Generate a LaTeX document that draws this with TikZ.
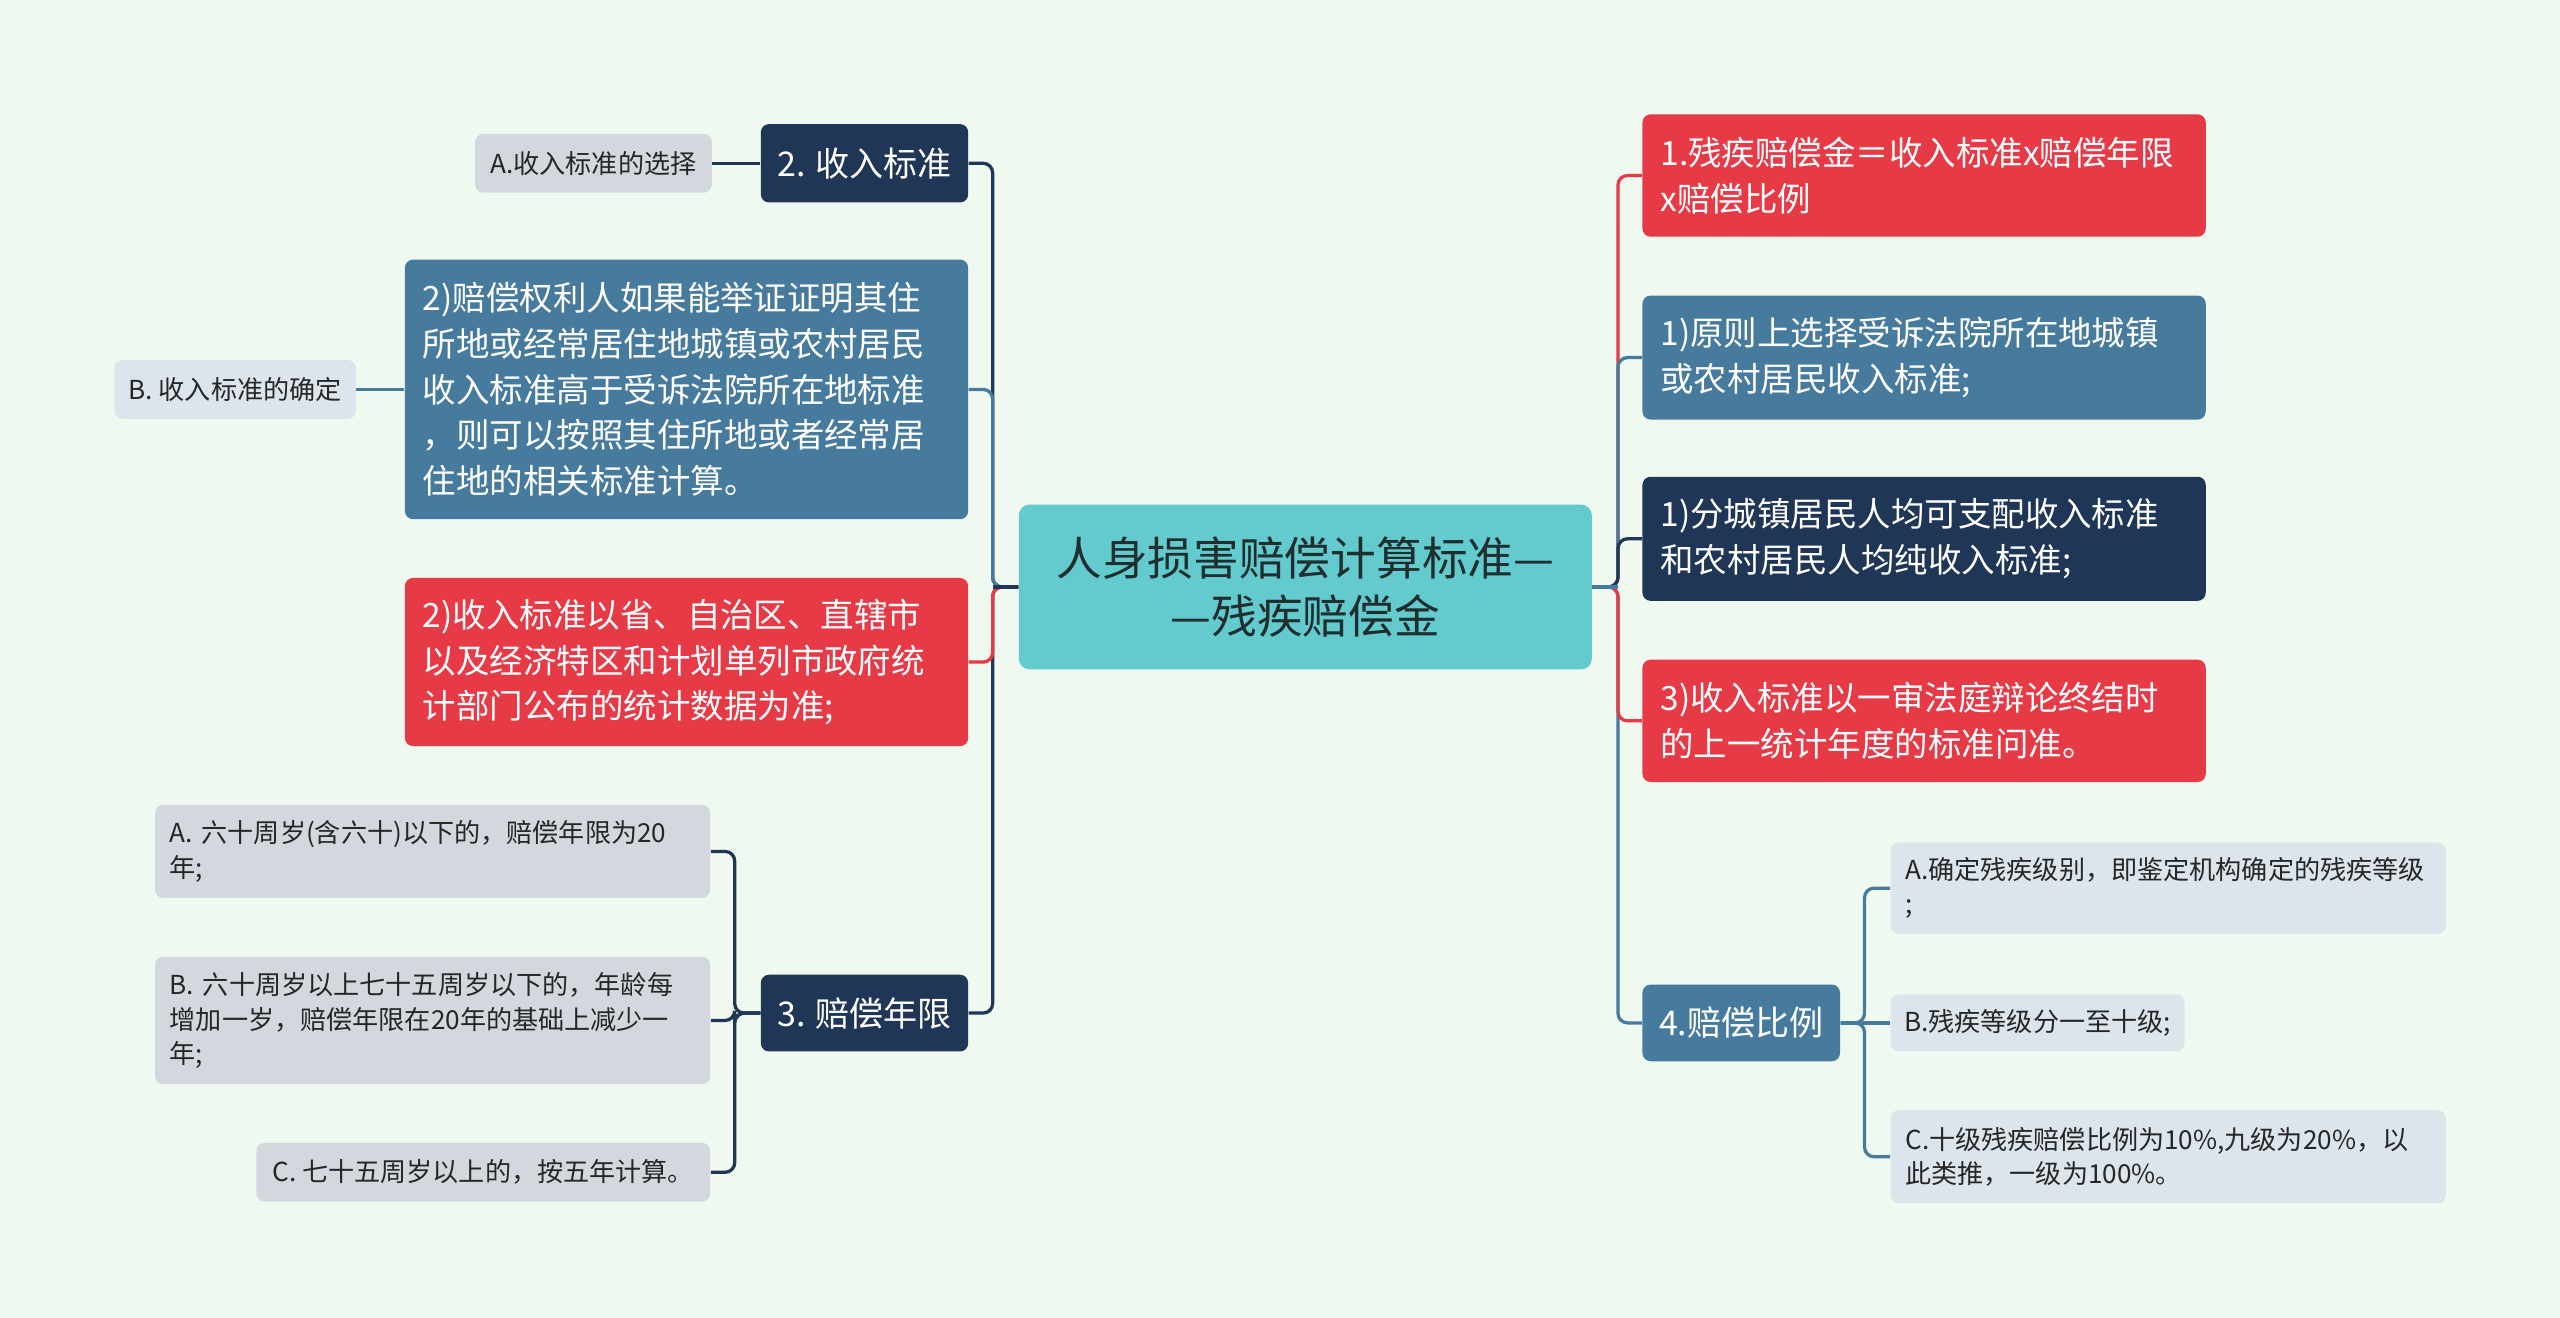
\documentclass[tikz,border=0pt]{standalone}
\usepackage{fontspec}
\setmainfont{Noto Sans CJK SC}
\definecolor{bgc}{HTML}{F0F9EF}
\definecolor{navyc}{HTML}{1F3656}
\definecolor{bluec}{HTML}{477B9E}
\definecolor{redc}{HTML}{E63A47}
\definecolor{tealc}{HTML}{63CACD}
\definecolor{greyc}{HTML}{D3D8DF}
\definecolor{lgreyc}{HTML}{DCE4EC}
\definecolor{txtdark}{HTML}{262626}
\definecolor{ctext}{HTML}{1F2E2E}
\newcommand\FtBig{\fontsize{16.8pt}{21.6pt}\selectfont}
\newcommand\FtMid{\fontsize{12.3pt}{16.8pt}\selectfont}
\newcommand\FtHead{\fontsize{12.5pt}{15pt}\selectfont}
\newcommand\FtSmall{\fontsize{9.6pt}{12.6pt}\selectfont}
\begin{document}
\begin{tikzpicture}[x=0.6pt,y=-0.6pt,
  cbox/.style={rounded corners=3pt, inner xsep=6.6pt, inner ysep=0pt, text=white, align=left, font=\FtMid, text width=193.8pt},
  hbox/.style={rounded corners=3pt, inner sep=0pt, text=white, align=center, font=\FtHead},
  gbox/.style={rounded corners=3pt, inner xsep=5.4pt, inner ysep=0pt, text=txtdark, align=left, font=\FtSmall, text width=193.2pt},
  gone/.style={rounded corners=3pt, inner sep=0pt, text=txtdark, align=center, font=\FtSmall},
  link/.style={line width=1.2pt, rounded corners=3.5pt}]
\fill[bgc] (0,0) rectangle (1568,807);
\useasboundingbox (0,0) rectangle (1568,807);

% centre
\node[rounded corners=4pt, fill=tealc, text=ctext, align=center, font=\FtBig, text width=198.6pt, inner xsep=6pt, inner ysep=0pt, minimum height=101*0.6pt] (c) at (799.5,359.5) {人身损害赔偿计算标准—\\—残疾赔偿金};

% left side
\node[hbox, fill=navyc, minimum width=127*0.6pt, minimum height=48*0.6pt] (n2) at (529.5,100) {2. 收入标准};
\node[gone, fill=greyc, minimum width=145*0.6pt, minimum height=36*0.6pt] (nA1) at (363.5,100) {A.收入标准的选择};
\node[cbox, fill=bluec, minimum height=159*0.6pt] (nBlue) at (420.5,238.5) {2)赔偿权利人如果能举证证明其住\\所地或经常居住地城镇或农村居民\\收入标准高于受诉法院所在地标准\\，则可以按照其住所地或者经常居\\住地的相关标准计算。};
\node[gone, fill=lgreyc, minimum width=148*0.6pt, minimum height=36*0.6pt] (nB1) at (144,238.5) {B. 收入标准的确定};
\node[cbox, fill=redc, minimum height=103*0.6pt] (nRed) at (420.5,405.5) {2)收入标准以省、自治区、直辖市\\以及经济特区和计划单列市政府统\\计部门公布的统计数据为准;};
\node[hbox, fill=navyc, minimum width=127*0.6pt, minimum height=47*0.6pt] (n3) at (529.5,620.5) {3. 赔偿年限};
\node[gbox, fill=greyc, minimum height=57*0.6pt] (n3A) at (265,521.5) {A.~六十周岁(含六十)以下的，赔偿年限为20\\年;};
\node[gbox, fill=greyc, minimum height=78*0.6pt] (n3B) at (265,625) {B.~六十周岁以上七十五周岁以下的，年龄每\\增加一岁，赔偿年限在20年的基础上减少一\\年;};
\node[gone, fill=greyc, minimum width=278*0.6pt, minimum height=36*0.6pt] (n3C) at (296,718) {C. 七十五周岁以上的，按五年计算。};

% right side
\node[cbox, fill=redc, minimum height=75*0.6pt] (r1) at (1178.5,107.5) {1.残疾赔偿金＝收入标准x赔偿年限\\x赔偿比例};
\node[cbox, fill=bluec, minimum height=76*0.6pt] (r2) at (1178.5,219) {1)原则上选择受诉法院所在地城镇\\或农村居民收入标准;};
\node[cbox, fill=navyc, minimum height=76*0.6pt] (r3) at (1178.5,330) {1)分城镇居民人均可支配收入标准\\和农村居民人均纯收入标准;};
\node[cbox, fill=redc, minimum height=75*0.6pt] (r4) at (1178.5,441.5) {3)收入标准以一审法庭辩论终结时\\的上一统计年度的标准问准。};
\node[hbox, fill=bluec, minimum width=121*0.6pt, minimum height=47*0.6pt] (r5) at (1066.5,626.5) {4.赔偿比例};
\node[gbox, fill=lgreyc, minimum height=56*0.6pt] (r5A) at (1328,544) {A.确定残疾级别，即鉴定机构确定的残疾等级\\;};
\node[gone, fill=lgreyc, minimum width=180*0.6pt, minimum height=35*0.6pt] (r5B) at (1248,626.5) {B.残疾等级分一至十级;};
\node[gbox, fill=lgreyc, minimum height=57*0.6pt] (r5C) at (1328,708.5) {C.十级残疾赔偿比例为10\%,九级为20\%，以\\此类推，一级为100\%。};

% junctions
\coordinate (L) at (608,359.5);
\coordinate (R) at (991,359.5);
\coordinate (L3) at (450,620.5);
\coordinate (R5) at (1142,626.5);

% left connectors
\draw[link,navyc] (c.west) -- (L) |- (n2.east);
\draw[link,bluec] (c.west) -- (L) |- (nBlue.east);
\draw[link,navyc] (c.west) -- (L) |- (n3.east);
\draw[link,redc] (c.west) -- (L) |- (nRed.east);
\draw[link,navyc] (c.west) -- (L);
\draw[link,navyc] (n2.west) -- (nA1.east);
\draw[link,bluec] (nBlue.west) -- (nB1.east);
\draw[link,navyc] (n3.west) -- (L3) |- (n3A.east);
\draw[link,navyc] (n3.west) -- (L3) |- (n3C.east);
\draw[link,navyc] (n3.west) -- (L3) |- (n3B.east);

% right connectors
\draw[link,redc] (c.east) -- (R) |- (r1.west);
\draw[link,bluec] (c.east) -- (R) |- (r2.west);
\draw[link,navyc] (c.east) -- (R) |- (r3.west);
\draw[link,bluec] (c.east) -- (R) |- (r5.west);
\draw[link,redc] (c.east) -- (R) |- (r4.west);
\draw[link,bluec] (c.east) -- (R);
\draw[link,bluec] (r5.east) -- (R5) |- (r5A.west);
\draw[link,bluec] (r5.east) -- (R5) |- (r5C.west);
\draw[link,bluec] (r5.east) -- (r5B.west);
\end{tikzpicture}
\end{document}
